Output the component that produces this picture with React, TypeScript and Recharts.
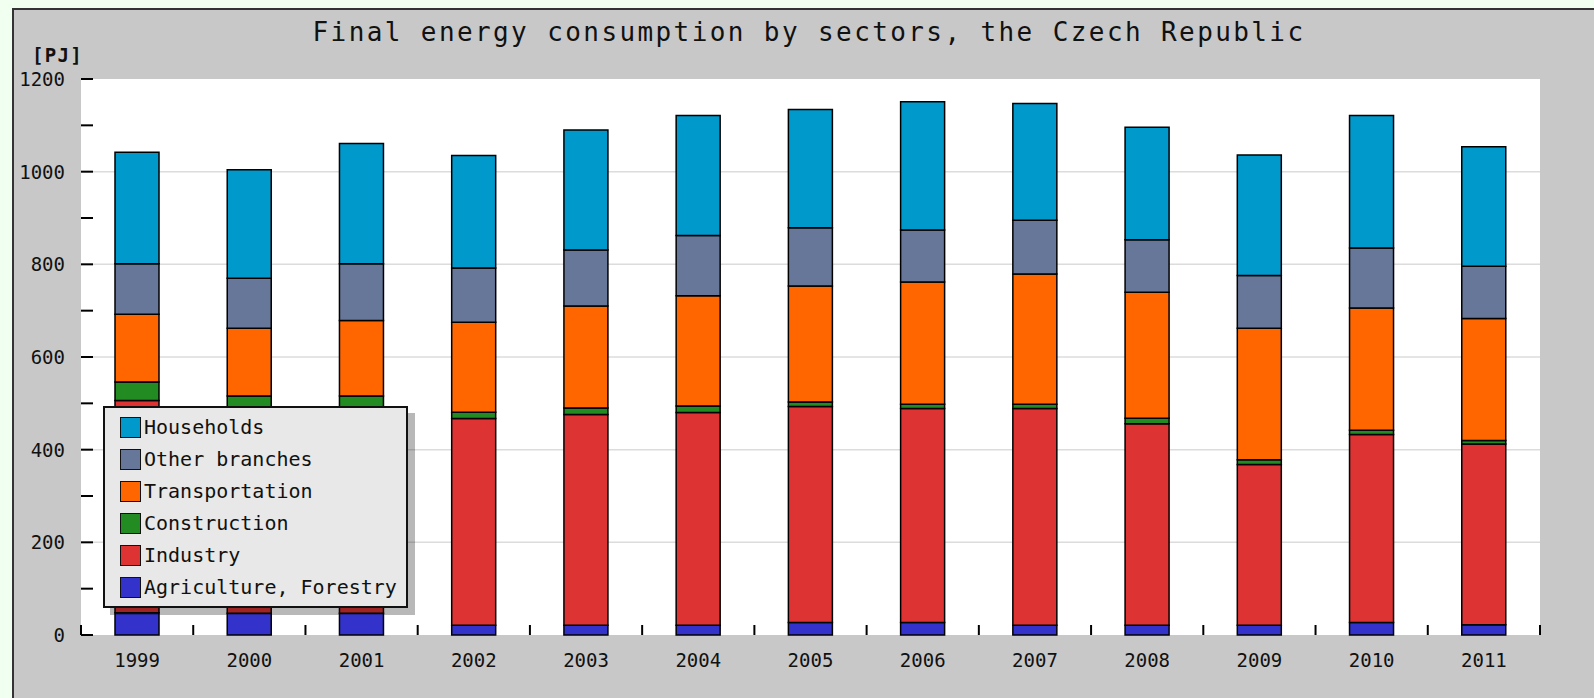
import { Bar, BarChart, CartesianGrid, XAxis, YAxis } from "recharts";

// Final energy consumption by sectors, CZ, in PJ.
const years = ["1999", "2000", "2001", "2002", "2003", "2004", "2005", "2006", "2007", "2008", "2009", "2010", "2011"];
const agriculture = [48, 47, 47, 21, 21, 21, 27, 27, 21, 21, 21, 27, 22];
const industry = [458, 439, 439, 446, 455, 459, 466, 462, 468, 435, 347, 406, 390];
const construction = [40, 30, 30, 14, 14, 14, 10, 9, 9, 12, 10, 9, 8];
const transportation = [146, 146, 163, 194, 220, 238, 250, 264, 281, 272, 284, 264, 263];
const otherBranches = [109, 108, 122, 117, 121, 130, 126, 112, 116, 113, 114, 129, 113];
const households = [241, 234, 260, 243, 259, 259, 255, 277, 252, 243, 260, 286, 258];

const yTicks = [0, 100, 200, 300, 400, 500, 600, 700, 800, 900, 1000, 1100, 1200];
const gridValues = [200, 400, 600, 800, 1000];

// stacking order, bottom first
const SERIES = [
  { key: "agriculture", name: "Agriculture, Forestry", color: "#3333cc" },
  { key: "industry", name: "Industry", color: "#dd3333" },
  { key: "construction", name: "Construction", color: "#228b22" },
  { key: "transportation", name: "Transportation", color: "#ff6600" },
  { key: "other", name: "Other branches", color: "#667799" },
  { key: "households", name: "Households", color: "#0099cc" },
];

const data = years.map((year, i) => ({
  year,
  agriculture: agriculture[i],
  industry: industry[i],
  construction: construction[i],
  transportation: transportation[i],
  other: otherBranches[i],
  households: households[i],
}));

const FONT = "'DejaVu Sans Mono', monospace";

function YTick(props: any) {
  const { x, y, payload } = props;
  const v = payload.value as number;
  return (
    <g>
      <line x1={x} x2={x + 12} y1={y} y2={y} stroke="#000" strokeWidth={2} />
      {v % 200 === 0 && (
        <text x={x - 16} y={y} textAnchor="end" dominantBaseline="central" fontFamily={FONT} fontSize={19} fill="#111">
          {v}
        </text>
      )}
    </g>
  );
}

function XTick(props: any) {
  const { x, y, payload, index, visibleTicksCount } = props;
  const half = typeof payload.offset === "number" && payload.offset > 0 ? payload.offset : 1459 / 13 / 2;
  const last = index === visibleTicksCount - 1;
  return (
    <g>
      <line x1={x - half} x2={x - half} y1={y} y2={y - 10} stroke="#000" strokeWidth={2} />
      {last && <line x1={x + half} x2={x + half} y1={y} y2={y - 10} stroke="#000" strokeWidth={2} />}
      <text x={x} y={y + 25} textAnchor="middle" dominantBaseline="central" fontFamily={FONT} fontSize={19} fill="#111">
        {payload.value}
      </text>
    </g>
  );
}

export default function App() {
  return (
    <div style={{ position: "fixed", inset: 0, background: "#f0fff0", overflow: "hidden" }}>
      <div
        style={{
          position: "absolute",
          left: 12,
          top: 8,
          right: 0,
          bottom: 0,
          background: "#c8c8c8",
          borderLeft: "2px solid #333",
          borderTop: "2px solid #333",
        }}
      />
      <div
        style={{
          position: "absolute",
          left: 0,
          width: 1618,
          top: 19,
          lineHeight: "26px",
          textAlign: "center",
          fontFamily: FONT,
          fontSize: 26,
          letterSpacing: 2.4,
          color: "#111",
        }}
      >
        Final energy consumption by sectors, the Czech Republic
      </div>
      <div
        style={{
          position: "absolute",
          left: 32,
          top: 45,
          lineHeight: "20px",
          fontFamily: FONT,
          fontSize: 19,
          fontWeight: "bold",
          letterSpacing: 1.3,
          color: "#111",
        }}
      >
        [PJ]
      </div>

      <div style={{ position: "absolute", left: 0, top: 0 }}>
        <BarChart width={1594} height={698} data={data} margin={{ top: 79, right: 54, bottom: 0, left: 0 }}>
          <CartesianGrid
            vertical={false}
            horizontalValues={gridValues}
            fill="#ffffff"
            fillOpacity={1}
            stroke="#dcdcdc"
            strokeWidth={1.5}
          />
          <XAxis
            dataKey="year"
            height={63}
            axisLine={false}
            tickLine={false}
            tickSize={0}
            tickMargin={0}
            interval={0}
            tick={<XTick />}
          />
          <YAxis
            width={81}
            domain={[0, 1200]}
            ticks={yTicks}
            interval={0}
            axisLine={false}
            tickLine={false}
            tickSize={0}
            tickMargin={0}
            tick={<YTick />}
          />
          {SERIES.map((s) => (
            <Bar
              key={s.key}
              dataKey={s.key}
              name={s.name}
              stackId="a"
              fill={s.color}
              stroke="#000"
              strokeWidth={1.5}
              barSize={44}
              isAnimationActive={false}
            />
          ))}
        </BarChart>
      </div>

      {/* legend box drawn over the plot, top-most series first */}
      <div
        style={{
          position: "absolute",
          left: 103,
          top: 406,
          width: 286,
          height: 195,
          background: "#e8e8e8",
          border: "2px solid #111",
          boxShadow: "7px 7px 0 rgba(0,0,0,0.28)",
          paddingTop: 3,
          paddingLeft: 15,
          boxSizing: "content-box",
        }}
      >
        {[...SERIES].reverse().map((s) => (
          <div key={s.key} style={{ display: "flex", alignItems: "center", height: 32 }}>
            <span
              style={{
                width: 19,
                height: 19,
                background: s.color,
                border: "1.5px solid #111",
                marginRight: 3,
                flexShrink: 0,
              }}
            />
            <span style={{ fontFamily: FONT, fontSize: 20, color: "#111", whiteSpace: "nowrap" }}>{s.name}</span>
          </div>
        ))}
      </div>
    </div>
  );
}
